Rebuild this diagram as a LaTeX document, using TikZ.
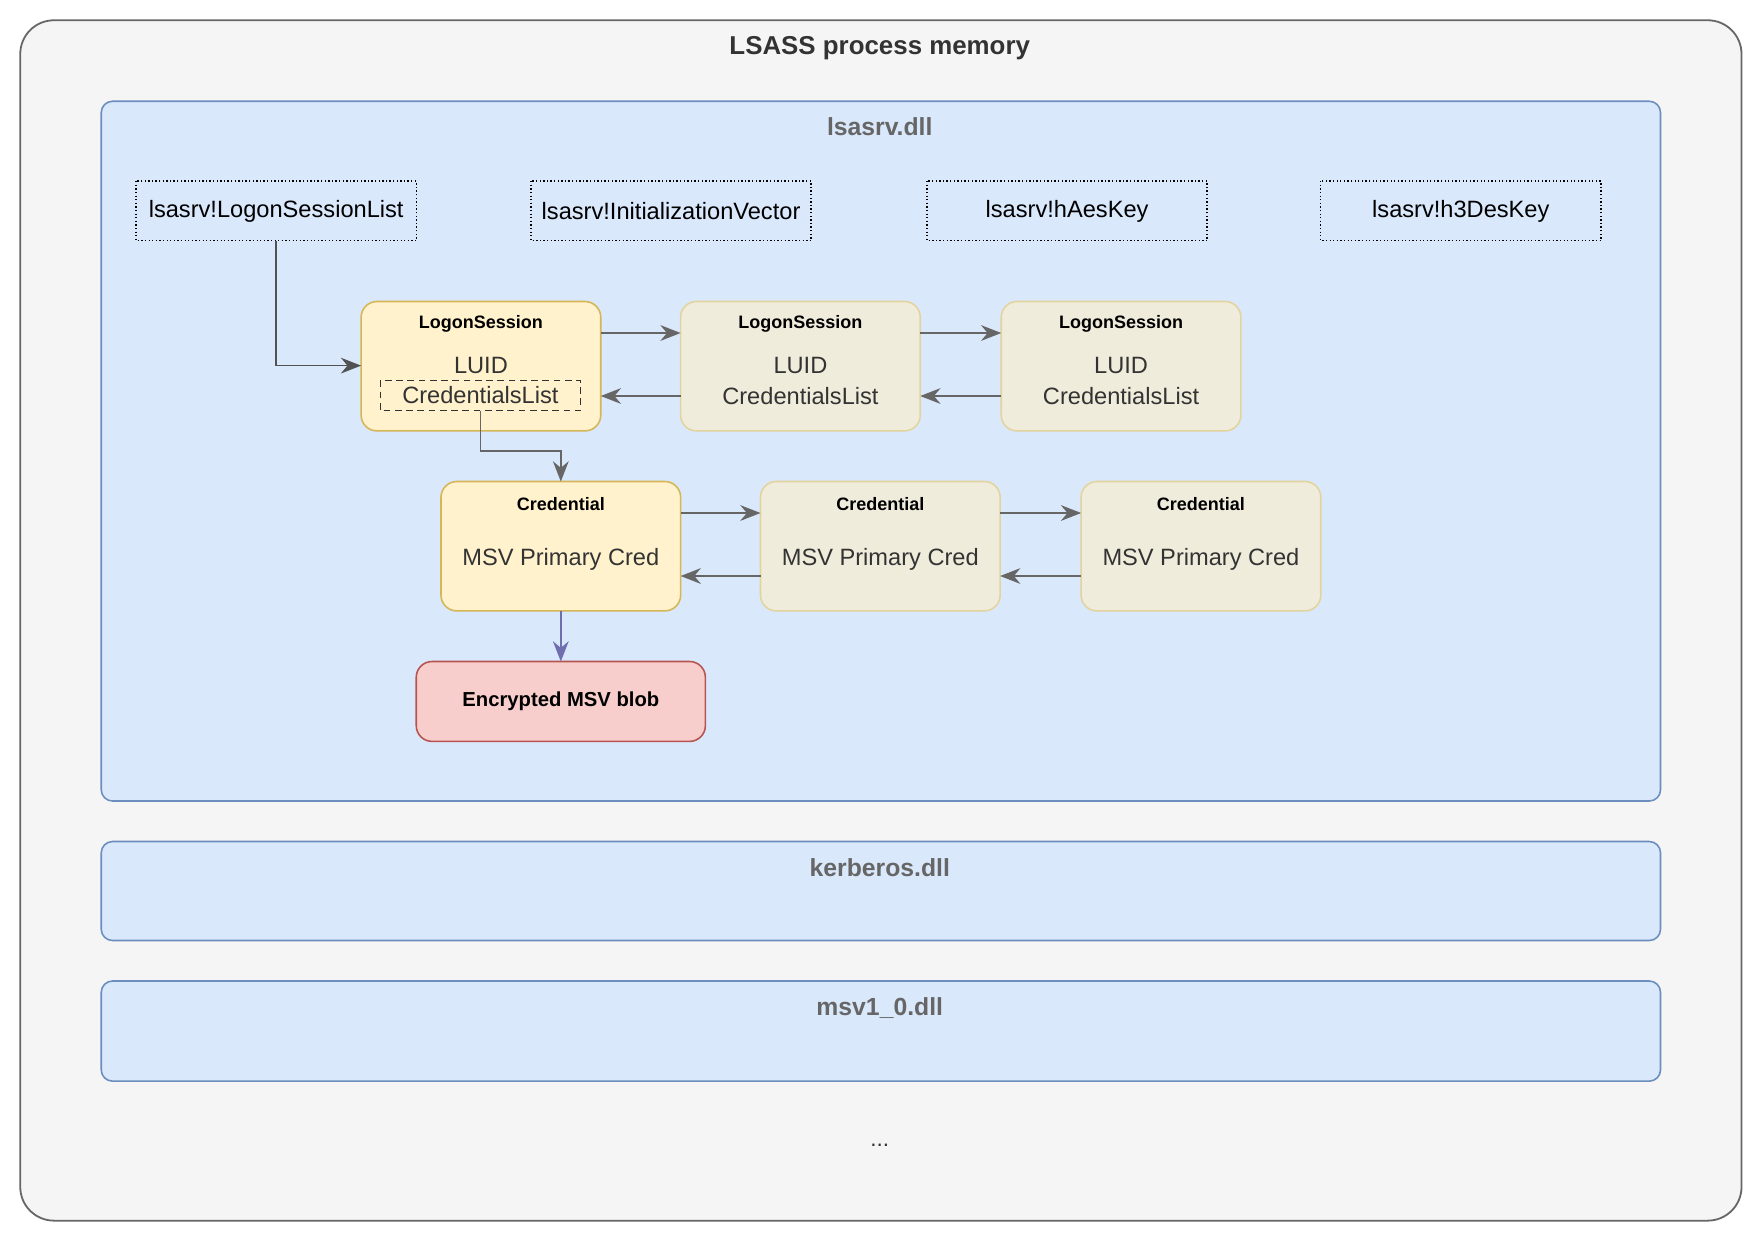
\documentclass[tikz,border=0pt]{standalone}
\usepackage{fontspec}
\setmainfont{Liberation Sans}
\usetikzlibrary{arrows.meta}
\definecolor{outerf}{HTML}{F5F5F5}\definecolor{outerd}{HTML}{666666}
\definecolor{bluef}{HTML}{DAE8FC}\definecolor{blued}{HTML}{6C8EBF}
\definecolor{yelf}{HTML}{FFF2CC}\definecolor{yeld}{HTML}{D6B656}
\definecolor{palef}{HTML}{F0ECDC}\definecolor{paled}{HTML}{E3D49E}
\definecolor{redf}{HTML}{F8CECC}\definecolor{redd}{HTML}{B85450}
\definecolor{txt}{HTML}{333333}\definecolor{gtxt}{HTML}{666666}
\definecolor{purp}{HTML}{6F6FAF}
\begin{document}
\begin{tikzpicture}[x=0.5pt,y=-0.5pt,
  box/.style={draw=blued,fill=bluef,rounded corners=5pt,line width=0.7pt},
  dll/.style={font=\bfseries\fontsize{11}{13}\selectfont,text=gtxt},
  sym/.style={draw=black,densely dotted,line width=0.6pt,fill=bluef},
  symt/.style={font=\fontsize{10.5}{12}\selectfont},
  ls/.style={rounded corners=7pt,line width=0.7pt},
  hd/.style={font=\bfseries\fontsize{8}{10}\selectfont},
  bd/.style={font=\fontsize{10.5}{13}\selectfont,text=txt,align=center},
  arr/.style={draw=outerd,line width=0.7pt,-{Stealth[length=9pt,width=7pt]}}]
\useasboundingbox (0,0) rectangle (1568,1105);
\draw[fill=outerf,draw=outerd,rounded corners=15pt,line width=0.8pt] (18,18) rectangle (1548,1085);
\node[font=\bfseries\fontsize{11.5}{14}\selectfont,text=txt] (title) at (782,43) {LSASS process memory};
\draw[box] (90,90) rectangle (1476,712);
\node[dll] (lsasrv) at (782,113) {lsasrv.dll};
\draw[box] (90,748) rectangle (1476,836);
\node[dll] (kerb) at (782,771) {kerberos.dll};
\draw[box] (90,872) rectangle (1476,961);
\node[dll] (msv) at (782,896) {msv1\_0.dll};
\node[font=\fontsize{10}{12}\selectfont,text=txt] (dots) at (782,1018) {...};
% symbol boxes
\foreach \n/\x/\t in {s1/121/lsasrv!LogonSessionList,s2/472/lsasrv!InitializationVector,s3/824/lsasrv!hAesKey,s4/1174/lsasrv!h3DesKey}{
  \draw[sym] (\x,161) rectangle (\x+249,214);
  \node[symt] (\n) at (\x+124.5,187.5) {\t};
  \coordinate (\n b) at (\x+124.5,214);
}
% logon sessions
\foreach \n/\x/\f/\d in {L1/321/yelf/yeld,L2/605/palef/paled,L3/890/palef/paled}{
  \draw[ls,fill=\f,draw=\d] (\x,268) rectangle (\x+213,383);
  \node[hd] (\n h) at (\x+106.5,288) {LogonSession};
  \node[bd] (\n luid) at (\x+106.5,325) {LUID};
  \coordinate (\n r1) at (\x+213,296); \coordinate (\n l1) at (\x,296);
  \coordinate (\n r2) at (\x+213,352); \coordinate (\n l2) at (\x,352);
  \coordinate (\n l) at (\x,325);
}
\node[bd] (L2cl) at (711.5,352) {CredentialsList};
\node[bd] (L3cl) at (996.5,352) {CredentialsList};
\draw[densely dashed,draw=txt,line width=0.6pt] (338,338) rectangle (516,365);
\node[bd] (L1cl) at (427,351.5) {CredentialsList};
\coordinate (L1clb) at (427,365);
\draw[arr] (L1r1) -- (L2l1); \draw[arr] (L2l2) -- (L1r2);
\draw[arr] (L2r1) -- (L3l1); \draw[arr] (L3l2) -- (L2r2);
\draw[arr,draw=outerd!80!black] (s1b) |- (L1l);
% credentials
\foreach \n/\x/\f/\d in {C1/392/yelf/yeld,C2/676/palef/paled,C3/961/palef/paled}{
  \draw[ls,fill=\f,draw=\d] (\x,428) rectangle (\x+213,543);
  \node[hd] (\n h) at (\x+106.5,448) {Credential};
  \node[bd] (\n m) at (\x+106.5,497) {MSV Primary Cred};
  \coordinate (\n r1) at (\x+213,456); \coordinate (\n l1) at (\x,456);
  \coordinate (\n r2) at (\x+213,512); \coordinate (\n l2) at (\x,512);
  \coordinate (\n t) at (\x+106.5,428); \coordinate (\n b) at (\x+106.5,543);
}
\draw[arr] (C1r1) -- (C2l1); \draw[arr] (C2l2) -- (C1r2);
\draw[arr] (C2r1) -- (C3l1); \draw[arr] (C3l2) -- (C2r2);
\draw[arr] (L1clb) -- (427,401) -| (C1t);
\draw[ls,fill=redf,draw=redd] (370,588) rectangle (627,659);
\node[font=\bfseries\fontsize{9}{11}\selectfont] (enc) at (498.5,623.5) {Encrypted MSV blob};
\draw[arr,draw=purp] (C1b) -- (498.5,588);
\end{tikzpicture}
\end{document}
